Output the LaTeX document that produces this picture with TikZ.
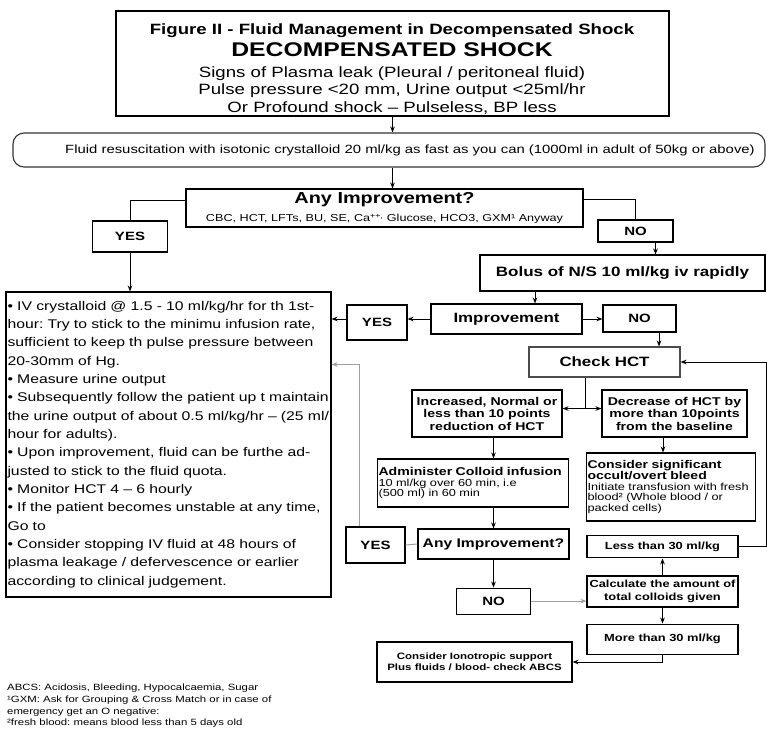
\documentclass[tikz,border=0pt]{standalone}
\usepackage{fontspec}
\setmainfont[FakeStretch=1.25]{Liberation Sans}
\usetikzlibrary{arrows.meta, positioning}
\frenchspacing

\newcommand{\fsz}[2]{\fontsize{#1}{#2}\selectfont}

\begin{document}
\begin{tikzpicture}[
  x=1pt, y=-1pt,
  node distance=16pt and 20pt,
  box/.style={rectangle, draw=black, line width=1.1pt, inner sep=1pt, align=center, font=\bfseries\fsz{12}{14}},
  arrow/.style={line width=1pt, -{Stealth[length=6pt,width=4.6pt]}},
  link/.style={line width=1pt},
  faint/.style={draw=gray!75, line width=1pt}
]
\useasboundingbox (0,0) rectangle (767,731);

\node (head) [box, line width=1.3pt, minimum width=553pt, minimum height=105pt] at (392.5,63.5) {};
\node (headtxt) [inner sep=0pt, align=center, font=\fsz{14.9}{17.7}] at (392,69)
  {{\bfseries Figure II - Fluid Management in Decompensated Shock}\\[4.3pt]
   {\bfseries\fsz{19.8}{20}DECOMPENSATED SHOCK}\\[3.3pt]
   Signs of Plasma leak (Pleural / peritoneal fluid)\\
   Pulse pressure <20 mm, Urine output <25ml/hr\\
   Or Profound shock – Pulseless, BP less};
\node (fluid) [box, draw=black!80, rounded corners=11pt, minimum width=752pt, minimum height=34pt, font=\fsz{11.9}{14}] at (389,150)
  {\hspace*{42pt}Fluid resuscitation with isotonic crystalloid 20 ml/kg as fast as you can (1000ml in adult of 50kg or above)};
\node (anyimp) [box, minimum width=397pt, minimum height=38pt, font=\bfseries\fsz{15.9}{18.5}] at (384.5,208)
  {Any Improvement?\\ {\mdseries\fsz{10.1}{12}CBC, HCT, LFTs, BU, SE, Ca\textsuperscript{++,} Glucose, HCO3, GXM¹ Anyway}};
\node (yes1) [box, minimum width=75pt, minimum height=31pt] at (130,236.5) {YES};
\node (no1) [box, minimum width=75pt, minimum height=22pt] at (635.5,231) {NO};
\node (bolus) [box, minimum width=285pt, minimum height=36pt, font=\bfseries\fsz{13.6}{16}] at (622.5,273) {Bolus of N/S 10 ml/kg iv rapidly};

\node (big) [box, font=\fsz{12.6}{18.33}, align=left, text width=322pt, inner xsep=1.5pt, minimum height=305pt] at (168.5,444.5)
  {• IV crystalloid @ 1.5 - 10 ml/kg/hr for th 1st-\\
   hour: Try to stick to the minimu infusion rate,\\
   sufficient to keep th pulse pressure between\\
   20-30mm of Hg.\\
   • Measure urine output\\
   • Subsequently follow the patient up t maintain\\
   the urine output of about 0.5 ml/kg/hr – (25 ml/\\
   hour for adults).\\
   • Upon improvement, fluid can be furthe ad-\\
   justed to stick to the fluid quota.\\
   • Monitor HCT 4 – 6 hourly\\
   • If the patient becomes unstable at any time,\\
   Go to\\
   • Consider stopping IV fluid at 48 hours of\\
   plasma leakage / defervescence or earlier\\
   according to clinical judgement.};

\node (imp) [box, minimum width=151pt, minimum height=30pt, font=\bfseries\fsz{13.5}{16}] at (506.5,319) {Improvement};
\node (yes2) [box, minimum width=60pt, minimum height=35pt] at (377,322.5) {YES};
\node (no2) [box, minimum width=73pt, minimum height=27pt] at (639.5,318.5) {NO};
\node (check) [box, draw=black!70, minimum width=151pt, minimum height=30pt, font=\bfseries\fsz{13.5}{16}] at (604.5,362) {Check HCT};
\node (incr) [box, minimum width=150pt, minimum height=47pt, font=\bfseries\fsz{11.3}{12.5}] at (487,413.5)
  {Increased, Normal or\\ less than 10 points\\ reduction of HCT};
\node (decr) [box, minimum width=145pt, minimum height=47pt, font=\bfseries\fsz{11.3}{12.5}] at (674.5,413.5)
  {Decrease of HCT by\\ more than 10points\\ from the baseline};
\node (admin) [box, font=\fsz{10.2}{10.5}, align=left, text width=189pt, minimum height=48pt] at (473,483)
  {{\bfseries\fsz{11.3}{10.5}Administer Colloid infusion}\\
   10 ml/kg over 60 min, i.e\\
   (500 ml) in 60 min};
\node (consider) [box, font=\fsz{10.2}{10.6}, align=left, text width=167pt, minimum height=68pt] at (671,487)
  {{\bfseries\fsz{11.2}{10.6}Consider significant}\\
   {\bfseries\fsz{11.2}{10.6}occult/overt bleed}\\
   Initiate transfusion with fresh\\
   blood² (Whole blood / or\\
   packed cells)};
\node (anyimp2) [box, minimum width=151pt, minimum height=30pt, font=\bfseries\fsz{12.5}{15}] at (493.5,544) {Any Improvement?};
\node (yes3) [box, minimum width=59pt, minimum height=36pt] at (375.5,545) {YES};
\node (no3) [box, minimum width=74pt, minimum height=26pt, below=28pt of anyimp2] {NO};
\node (calc) [box, minimum width=151pt, minimum height=31pt, font=\bfseries\fsz{10.3}{13.5}] at (662.5,591.5)
  {Calculate the amount of\\ total colloids given};
\node (less) [box, minimum width=151pt, minimum height=22pt, font=\bfseries\fsz{10.3}{12}, above=17pt of calc] {Less than 30 ml/kg};
\node (more) [box, minimum width=151pt, minimum height=30pt, font=\bfseries\fsz{10.3}{12}, below=of calc] {More than 30 ml/kg};
\node (iono) [box, minimum width=195pt, minimum height=40pt, font=\bfseries\fsz{9.2}{11}] at (474.5,662)
  {Consider Ionotropic support\\ Plus fluids / blood- check ABCS};

\node (notes) [anchor=north west, inner sep=0pt, align=left, font=\fsz{9.1}{11.6}] at (7,684)
  {ABCS: Acidosis, Bleeding, Hypocalcaemia, Sugar\\
   ¹GXM: Ask for Grouping \& Cross Match or in case of\\
   emergency get an O negative:\\
   ²fresh blood: means blood less than 5 days old};

\draw [arrow] (head.south) -- (head.south |- fluid.north);
\draw [arrow] (head.south |- fluid.south) -- (head.south |- anyimp.north);
\draw [link] ([yshift=8pt]anyimp.west) -| (yes1.north);
\draw [arrow] (yes1.south) -- (yes1.south |- big.north);
\draw [link] ([yshift=9pt]anyimp.east) -| (no1.north);
\draw [arrow] ([xshift=20pt]no1.south) -- ([xshift=20pt]no1.south |- bolus.north);
\draw [arrow] ([xshift=28.5pt]imp.north |- bolus.south) -- ([xshift=28.5pt]imp.north);
\draw [arrow] (imp.west) -- (imp.west -| yes2.east);
\draw [arrow] (imp.west -| yes2.west) -- (imp.west -| big.east);
\draw [arrow] (imp.east) -- (imp.east -| no2.west);
\draw [arrow] ([xshift=19.5pt]no2.south) -- ([xshift=19.5pt]no2.south |- check.north);
\coordinate (split) at ([xshift=-19.5pt, yshift=-31pt]check.south);
\draw [link] (check.south -| split) -- (split);
\draw [arrow] (split) -- (split -| incr.east);
\draw [arrow] (split) -- (split -| decr.west);
\draw [arrow] (anyimp2.north |- incr.south) -- (anyimp2.north |- admin.north);
\draw [arrow] ([xshift=-11.5pt]decr.south) -- ([xshift=-11.5pt]decr.south |- consider.north);
\draw [arrow] (anyimp2.north |- admin.south) -- (anyimp2.north);
\draw [faint] (yes3.east) -- (anyimp2.west);
\draw [faint, arrow] ([xshift=-16.5pt]yes3.north) |- ([yshift=-73pt]big.north east);
\draw [arrow] (anyimp2.south) -- (no3.north);
\draw [faint, arrow] (no3.east) -- (no3.east -| calc.west);
\draw [arrow] (calc.north) -- (less.south);
\draw [arrow] (calc.south) -- (more.north);
\draw [arrow] (less.east) -- ++(28,0) |- (check.east);
\draw [arrow] (more.south) |- (iono.east);
\end{tikzpicture}
\end{document}
